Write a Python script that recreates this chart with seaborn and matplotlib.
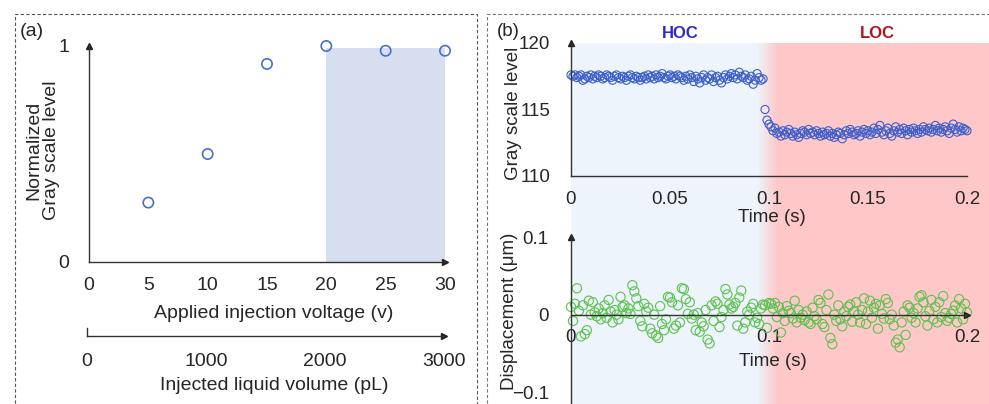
import numpy as np
import matplotlib
matplotlib.use("Agg")
import matplotlib.pyplot as plt
import seaborn as sns
import pandas as pd
from matplotlib.patches import Rectangle
from matplotlib.colors import to_rgb

# ---------------- data ----------------
# panel (a)
voltage = [5, 10, 15, 20, 25, 30]
norm_gray = [0.275, 0.50, 0.917, 1.0, 0.978, 0.978]
stable_range = [20, 30]
stable_top = 0.99
volume_ticks = [0, 1000, 2000, 3000]

# panel (b): sampled every 1 ms from 0 to 0.2 s
sample_period = 0.001
gray_hoc = [
    117.6, 117.5, 117.6, 117.4, 117.5, 117.6, 117.2, 117.3, 117.5, 117.4,
    117.6, 117.3, 117.5, 117.4, 117.6, 117.5, 117.3, 117.4, 117.6, 117.5,
    117.4, 117.2, 117.5, 117.6, 117.4, 117.3, 117.5, 117.4, 117.2, 117.5,
    117.6, 117.4, 117.3, 117.5, 117.4, 117.2, 117.4, 117.5, 117.3, 117.6,
    117.4, 117.5, 117.3, 117.6, 117.4, 117.5, 117.7, 117.4, 117.3, 117.5,
    117.6, 117.4, 117.5, 117.3, 117.6, 117.5, 117.4, 117.2, 117.5, 117.3,
    117.6, 117.4, 117.1, 117.5, 117.3, 117.0, 117.4, 117.6, 117.2, 117.4,
    117.3, 117.6, 117.1, 117.4, 117.5, 117.2, 117.0, 117.4, 117.6, 117.3,
    117.5, 117.7, 117.4, 117.6, 117.3, 117.8, 117.5, 117.4, 117.6, 117.2,
    117.3, 117.5, 116.9, 117.2, 117.7, 117.4, 117.2, 117.3,
]
gray_loc = [
    115.0, 114.2, 113.9, 113.7, 113.4, 113.6, 113.2, 113.3, 113.0, 113.4,
    113.1, 113.3, 113.5, 113.2, 113.0, 113.3, 113.1, 112.9, 113.2, 113.4,
    113.3, 113.1, 113.5, 113.2, 113.3, 113.1, 113.4, 113.2, 113.0, 113.3,
    113.1, 113.2, 113.4, 113.0, 113.2, 112.9, 113.1, 113.3, 113.2, 112.8,
    113.1, 113.4, 113.2, 113.5, 113.3, 113.1, 113.2, 113.4, 113.0, 113.3,
    113.5, 113.2, 113.4, 113.1, 113.3, 113.6, 113.2, 113.5, 113.8, 113.3,
    113.1, 113.4, 113.6, 113.2, 113.0, 113.4, 113.7, 113.3, 113.5, 113.2,
    113.6, 113.4, 113.1, 113.5, 113.3, 113.6, 113.4, 113.2, 113.5, 113.3,
    113.7, 113.5, 113.4, 113.6, 113.3, 113.5, 113.8, 113.4, 113.6, 113.3,
    113.5, 113.7, 113.4, 113.2, 113.6, 113.9, 113.5, 113.3, 113.7, 113.4,
    113.6, 113.5, 113.4,
]
displacement = [
    0.010, -0.008, 0.014, 0.034, 0.005, -0.028, 0.012, -0.025, -0.020, 0.018,
    0.000, 0.016, 0.003, -0.002, 0.008, -0.006, 0.002, 0.012, -0.004, 0.019,
    0.004, -0.010, 0.006, 0.000, -0.006, 0.023, 0.010, 0.012, 0.002, 0.008,
    0.001, 0.038, 0.030, 0.021, 0.011, -0.008, -0.015, 0.014, 0.004, 0.009,
    -0.018, -0.024, 0.000, -0.027, -0.030, 0.011, -0.012, -0.020, -0.006, 0.023,
    0.022, 0.016, -0.018, -0.014, 0.012, -0.010, 0.034, 0.033, 0.020, 0.001,
    0.016, -0.005, 0.000, -0.020, 0.002, -0.022, -0.010, -0.015, 0.006, -0.032,
    -0.037, 0.012, -0.008, 0.017, 0.014, -0.016, -0.003, 0.006, 0.033, 0.026,
    0.013, 0.008, 0.010, 0.015, -0.014, 0.022, 0.031, -0.018, -0.010, 0.004,
    0.000, 0.009, 0.014, -0.010, -0.004, -0.012, 0.008, 0.013, 0.012, -0.017,
    0.015, 0.014, 0.008, 0.015, -0.003, 0.010, -0.023, 0.002, -0.008, 0.011,
    0.005, 0.002, -0.005, 0.018, -0.010, 0.006, -0.004, 0.000, -0.007, 0.004,
    -0.010, -0.012, 0.009, -0.002, -0.006, 0.019, 0.015, -0.012, -0.016, 0.006,
    0.026, -0.030, -0.038, 0.000, -0.008, 0.012, -0.006, -0.015, 0.004, -0.002,
    0.010, 0.013, -0.009, 0.004, 0.016, 0.000, -0.010, 0.006, 0.021, -0.012,
    0.004, 0.018, -0.004, 0.009, 0.014, -0.018, 0.012, 0.001, -0.005, 0.020,
    0.015, -0.006, 0.000, -0.014, -0.036, -0.032, -0.042, -0.010, 0.004, -0.026,
    0.012, 0.009, -0.004, 0.002, -0.010, 0.008, 0.023, 0.025, 0.016, -0.002,
    -0.014, 0.005, 0.019, -0.006, 0.010, -0.010, 0.016, -0.003, 0.024, 0.002,
    -0.008, -0.004, 0.001, 0.005, 0.012, -0.010, 0.020, 0.008, -0.006, 0.014,
    0.003,
]
time_ticks_top = [0, 0.05, 0.1, 0.15, 0.2]
time_ticks_bottom = [0, 0.1, 0.2]

gray = gray_hoc + gray_loc
t_gray = np.arange(len(gray)) * sample_period
t_disp = np.arange(len(displacement)) * sample_period
df_gray = pd.DataFrame({"t": t_gray, "gray": gray})
df_disp = pd.DataFrame({"t": t_disp, "disp": displacement})
df_a = pd.DataFrame({"v": voltage, "g": norm_gray})

# ---------------- style ----------------
sns.set_style("white")
plt.rcParams["font.family"] = ["Liberation Sans", "DejaVu Sans"]
plt.rcParams["font.size"] = 13
plt.rcParams["axes.unicode_minus"] = True

FS_A = 14
FS_B = 13.5

W, H = 989, 404
fig = plt.figure(figsize=(W / 100, H / 100), dpi=100)


def box(x0, y0, x1, y1):
    # pixel box (top-left origin) -> figure fraction rect
    return [x0 / W, 1 - y1 / H, (x1 - x0) / W, (y1 - y0) / H]


def arrows(ax, x_at=0.0, y_top=True):
    ax.plot(1, x_at, marker=">", color="#222222", ms=4, clip_on=False,
            transform=ax.get_yaxis_transform())
    if y_top:
        ax.plot(0, 1, marker="^", color="#222222", ms=4, clip_on=False,
                transform=ax.transAxes)


def clean(ax, fs):
    for s in ["top", "right"]:
        ax.spines[s].set_visible(False)
    for s in ["left", "bottom"]:
        ax.spines[s].set_color("#333333")
        ax.spines[s].set_linewidth(1.0)
    ax.tick_params(length=0, labelsize=fs)
    ax.patch.set_alpha(0)


# dashed panel frames
fig.add_artist(Rectangle((15 / W, -0.1), (477 - 15) / W, 1.1 - 14 / H,
                         transform=fig.transFigure, fill=False,
                         ls=(0, (3, 2)), lw=0.8, ec="#555555"))
fig.add_artist(Rectangle((487 / W, -0.1), 0.6, 1.1 - 14 / H,
                         transform=fig.transFigure, fill=False,
                         ls=(0, (3, 2)), lw=0.8, ec="#777777"))

# ---------------- panel (a) ----------------
ax_a = fig.add_axes(box(89, 46, 445, 262))
ax_a.fill_between(stable_range, 0, stable_top, color="#d6deef", lw=0, zorder=0)
sns.scatterplot(data=df_a, x="v", y="g", ax=ax_a, marker="o", s=55,
                facecolor="none", edgecolor="#4472c4", linewidth=1.2,
                clip_on=False, zorder=3)
ax_a.set_xlim(0, 30)
ax_a.set_ylim(0, 1)
ax_a.set_xticks([0, 5, 10, 15, 20, 25, 30])
ax_a.set_yticks([0, 1])
ax_a.set_yticklabels(["0", "1"])
ax_a.set_xlabel("")
ax_a.set_ylabel("")
clean(ax_a, FS_A)
ax_a.tick_params(axis="x", pad=11)
ax_a.tick_params(axis="y", pad=14)
arrows(ax_a)

# volume axis
ax_v = fig.add_axes(box(87, 328, 444, 336))
ax_v.set_xlim(0, 3000)
ax_v.set_ylim(0, 1)
ax_v.set_xticks(volume_ticks)
ax_v.set_xticklabels([str(v) for v in volume_ticks])
ax_v.set_yticks([])
clean(ax_v, FS_A)
ax_v.tick_params(axis="x", pad=12)
arrows(ax_v, y_top=False)

fig.text(32 / W, 1 - 31 / H, "(a)", ha="center", va="center", fontsize=FS_A)
fig.text(43 / W, 1 - 150 / H, "Normalized\nGray scale level", rotation=90,
         ha="center", va="center", fontsize=FS_A, linespacing=1.05)
fig.text(274 / W, 1 - 314 / H, "Applied injection voltage (v)",
         ha="center", va="center", fontsize=FS_A)
fig.text(274 / W, 1 - 386 / H, "Injected liquid volume (pL)",
         ha="center", va="center", fontsize=FS_A)

# ---------------- panel (b) ----------------
# background: HOC (light blue) fading into LOC (pink)
ax_bg = fig.add_axes(box(571, 43, 989, 404), zorder=-5)
px = np.arange(418)
frac = np.clip((px - 186) / 20.0, 0, 1)
c0, c1 = np.array(to_rgb("#edf4fb")), np.array(to_rgb("#ffc8c8"))
grad = (1 - frac)[:, None] * c0 + frac[:, None] * c1
ax_bg.imshow(grad[None, :, :], aspect="auto", extent=[0, 418, 0, 1])
ax_bg.set_axis_off()

ax_t = fig.add_axes(box(571, 43, 967, 176))
sns.scatterplot(data=df_gray, x="t", y="gray", ax=ax_t, marker="o", s=34,
                facecolor="none", edgecolor="#3d5fcc", linewidth=0.8,
                clip_on=False)
ax_t.set_xlim(0, 0.2)
ax_t.set_ylim(110, 120)
ax_t.set_xticks(time_ticks_top)
ax_t.set_xticklabels(["0", "0.05", "0.1", "0.15", "0.2"])
ax_t.set_yticks([110, 115, 120])
ax_t.set_xlabel("")
ax_t.set_ylabel("")
clean(ax_t, FS_B)
ax_t.tick_params(axis="x", pad=11)
ax_t.tick_params(axis="y", pad=15)
arrows(ax_t)

ax_d = fig.add_axes(box(571, 237, 967, 404))
sns.scatterplot(data=df_disp, x="t", y="disp", ax=ax_d, marker="o", s=44,
                facecolor="none", edgecolor="#5cc24f", linewidth=0.8,
                clip_on=False)
ax_d.set_xlim(0, 0.2)
ax_d.set_ylim(-0.115, 0.1)
ax_d.set_xticks(time_ticks_bottom)
ax_d.set_xticklabels(["0", "0.1", "0.2"])
ax_d.set_yticks([-0.1, 0, 0.1])
ax_d.set_yticklabels(["\u22120.1", "0", "0.1"])
ax_d.set_xlabel("")
ax_d.set_ylabel("")
clean(ax_d, FS_B)
ax_d.spines["bottom"].set_position(("data", 0))
ax_d.tick_params(axis="x", pad=10)
ax_d.tick_params(axis="y", pad=16)
arrows(ax_d)

fig.text(508 / W, 1 - 32 / H, "(b)", ha="center", va="center", fontsize=FS_B)
fig.text(680 / W, 1 - 33 / H, "HOC", ha="center", va="center",
         fontsize=12, fontweight="bold", color="#2a2ad0")
fig.text(877 / W, 1 - 33 / H, "LOC", ha="center", va="center",
         fontsize=12, fontweight="bold", color="#b3141c")
fig.text(514 / W, 1 - 113 / H, "Gray scale level", rotation=90,
         ha="center", va="center", fontsize=FS_B)
fig.text(772 / W, 1 - 217 / H, "Time (s)", ha="center", va="center", fontsize=FS_B)
fig.text(509 / W, 1 - 311 / H, "Displacement (\u03bcm)", rotation=90,
         ha="center", va="center", fontsize=FS_B)
fig.text(773 / W, 1 - 362 / H, "Time (s)", ha="center", va="center", fontsize=FS_B)

fig.savefig("out.png", dpi=100)
